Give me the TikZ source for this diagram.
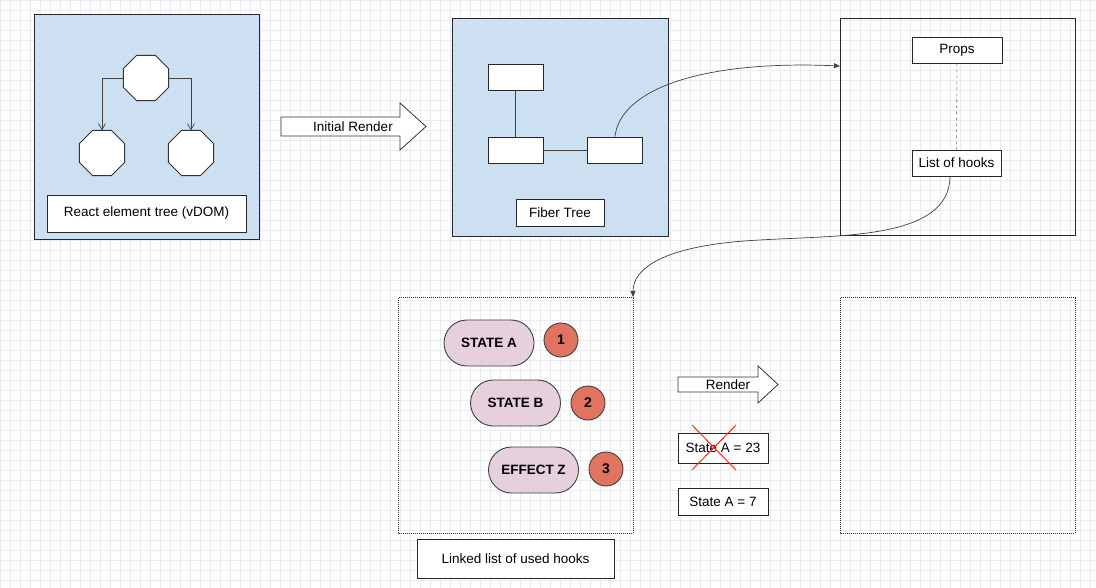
\documentclass[tikz,border=0pt]{standalone}
\usepackage{fontspec}
\setmainfont{Liberation Sans}
\usetikzlibrary{shapes.geometric,shapes.misc,arrows.meta}
\definecolor{bl}{RGB}{204,224,242}
\definecolor{pk}{RGB}{230,208,222}
\definecolor{og}{RGB}{224,116,96}
\definecolor{gr}{RGB}{234,234,242}
\begin{document}
\begin{tikzpicture}[x=1pt,y=-1pt,font=\fontsize{13.5}{15}\selectfont,
  frame/.style={draw=black!85,line width=0.9pt},
  lbl/.style={draw=black!85,fill=white,line width=0.8pt,inner sep=0},
  octo/.style={draw=black!80,fill=white,line width=0.8pt},
  rb/.style={draw=black!85,fill=white,line width=0.8pt,minimum width=55,minimum height=26,inner sep=0},
  pill/.style={rounded rectangle,draw=black!75,fill=pk,line width=0.9pt,minimum width=90,minimum height=46,inner sep=0,font=\fontsize{13.5}{15}\selectfont\bfseries},
  num/.style={circle,draw=black!75,fill=og,line width=0.9pt,minimum size=34,inner sep=0,font=\fontsize{14}{15}\selectfont\bfseries},
  conn/.style={draw=black!75,line width=0.7pt},
  bigarr/.style={draw=black!80,fill=white,line width=0.8pt}]
\useasboundingbox (0,0) rectangle (1096,588);
\fill[white] (0,0) rectangle (1096,588);
\foreach \i in {0,10,...,1090} \draw[gr,line width=0.4pt] (\i,0) -- (\i,588);
\foreach \j in {0,10,...,580} \draw[gr,line width=0.4pt] (0,\j) -- (1096,\j);
% box 1
\draw[frame,fill=bl] (34,14) rectangle (259,239);
\foreach \n/\cx/\cy in {o1/146/78,o2/102/153,o3/191/153}{
  \draw[octo,shift={(\cx,\cy)}] (22.5:24.5) -- (67.5:24.5) -- (112.5:24.5) -- (157.5:24.5) -- (202.5:24.5) -- (247.5:24.5) -- (292.5:24.5) -- (337.5:24.5) -- cycle;
  \node[circle,minimum size=45,inner sep=0] (\n) at (\cx,\cy) {};
}
\draw[conn,-{Straight Barb[length=6pt,width=7pt]}] (o1.west) -| (o2.north);
\draw[conn,-{Straight Barb[length=6pt,width=7pt]}] (o1.east) -| (o3.north);
\node[lbl,minimum width=199,minimum height=37] (l1) at (146.5,213.5) {React element tree (vDOM)};
% initial render
\draw[bigarr] (281,117) -- (400,117) -- (400,103) -- (426,126.5) -- (400,150) -- (400,136) -- (281,136) -- cycle;
\node (ir) at (353,127) {Initial Render};
% box 2
\draw[frame,fill=bl] (452,18) rectangle (668,236);
\node[rb] (r1) at (515.5,77) {};
\node[rb] (r2) at (515.5,150) {};
\node[rb] (r3) at (615,150) {};
\draw[conn] (r1) -- (r2);
\draw[conn] (r2) -- (r3);
\node[lbl,minimum width=88,minimum height=27] (l2) at (560,212.5) {Fiber Tree};
% box 3
\draw[frame] (840,18) rectangle (1075,235);
\coordinate (b3w) at (840,66);
\node[lbl,minimum width=90,minimum height=26] (props) at (957,50) {Props};
\node[lbl,minimum width=89,minimum height=26] (hooks) at (956.5,163) {List of hooks};
\draw[black!60,dashed,line width=0.6pt] (props) -- (hooks);
\draw[conn,-{Triangle[length=6pt,width=5pt]}] (r3.north) .. controls (620,90) and (700,60) .. (b3w);
% box 4
\draw[black!80,densely dotted,line width=1pt] (398,298) rectangle (633,533);
\coordinate (b4n) at (633,297);
\draw[conn,-{Triangle[length=6pt,width=5pt]}] (950,176) .. controls (950,240) and (840,235) .. (760,240) .. controls (660,245) and (633,270) .. (b4n);
\node[lbl,minimum width=197,minimum height=39] (l4) at (515.5,558.5) {Linked list of used hooks};
\node[pill] (sa) at (489,343) {STATE A};
\node[num] (n1) at (561,340) {1};
\node[pill] (sb) at (515.5,403) {STATE B};
\node[num] (n2) at (588,403) {2};
\node[pill] (ez) at (533.5,470) {EFFECT Z};
\node[num] (n3) at (606,469) {3};
% render
\draw[bigarr] (678,377) -- (758,377) -- (758,366) -- (778,384.5) -- (758,403) -- (758,392) -- (678,392) -- cycle;
\node (rd) at (728,385) {Render};
\node[lbl,minimum width=90,minimum height=30] (s23) at (723,448) {State A = 23};
\draw[red!85,line width=1pt] (692,425) -- (736,470) (736,425) -- (692,470);
\node[lbl,minimum width=90,minimum height=27] (s7) at (723,501.5) {State A = 7};
% box 5
\draw[black!80,densely dotted,line width=1pt] (840,298) rectangle (1075,533);
\end{tikzpicture}
\end{document}
